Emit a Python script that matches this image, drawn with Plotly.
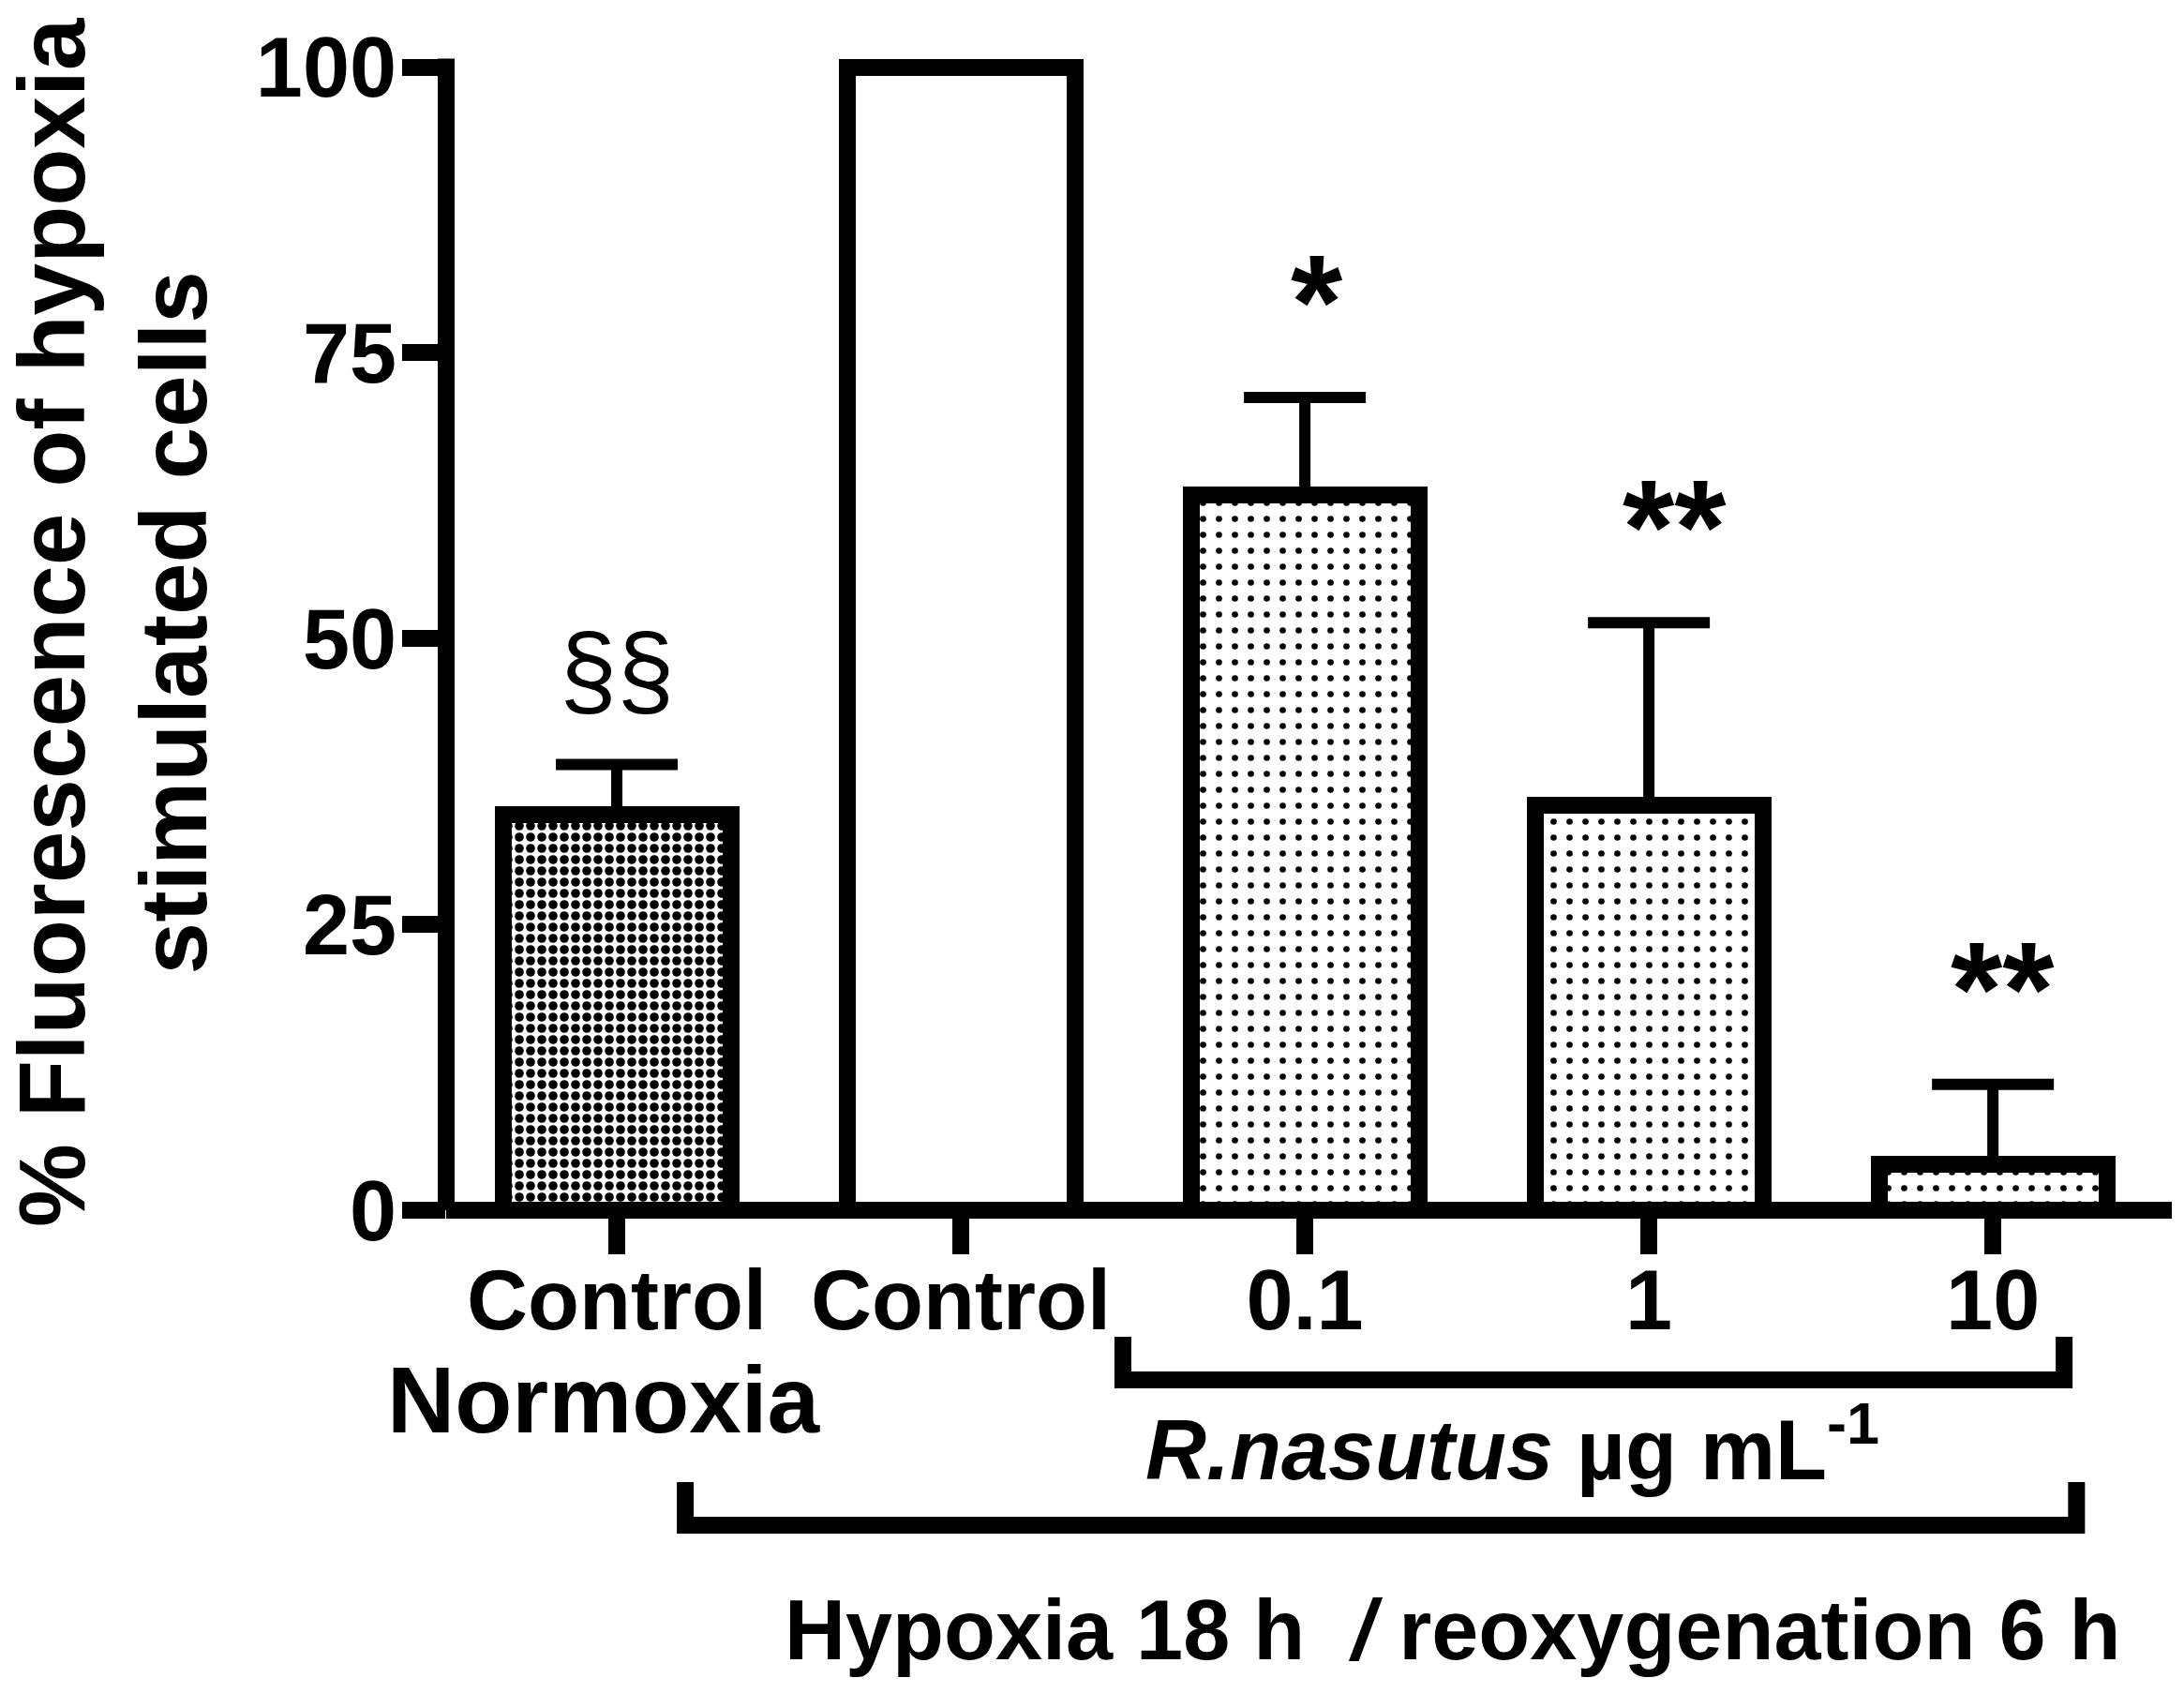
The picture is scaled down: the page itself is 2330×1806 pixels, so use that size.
import plotly.graph_objects as go

# values
groups = ["Control", "Control", "0.1", "1", "10"]
values = [34.6, 100, 62.6, 35.4, 4.0]
sem = [4.4, 0, 8.5, 16.0, 7.0]
signif = ["§§", "", "*", "**", "**"]

x_pos = [0, 1, 2, 3, 4]
y_ticks = [0, 25, 50, 75, 100]

# styling
FONT = "Liberation Sans, Arial, Helvetica, sans-serif"
X_RANGE = [-0.496, 4.52]
Y_RANGE = [0, 103]
LW = 18

pat_shape = [".", "", ".", ".", "."]
pat_size = [12, 10, 17, 17, 17]
pat_solid = [0.5, 0.1, 0.12, 0.12, 0.12]
sig_dx = [0, 0, 0.035, 0.074, 0.027]
sig_size = [110, 110, 142, 142, 142]
sig_weight = ["normal", "normal", "bold", "bold", "bold"]
SIG_PAD = 8.4


def xp(v):
    # data x -> paper x
    return (v - X_RANGE[0]) / (X_RANGE[1] - X_RANGE[0])


fig = go.Figure()

fig.add_trace(go.Bar(
    x=x_pos, y=values, width=0.662,
    marker=dict(
        color="white",
        line=dict(color="black", width=LW),
        pattern=dict(shape=pat_shape, size=pat_size, solidity=pat_solid,
                     fgcolor="black", bgcolor="white", fillmode="replace"),
    ),
    error_y=dict(type="data", symmetric=False, array=sem,
                 arrayminus=[0] * len(sem), color="black",
                 thickness=12, width=65),
    showlegend=False, hoverinfo="skip",
))

# significance marks above the error bars
for i, s in enumerate(signif):
    if not s:
        continue
    fig.add_annotation(
        x=x_pos[i] + sig_dx[i], y=values[i] + sem[i] + SIG_PAD,
        xref="x", yref="y", text=s, showarrow=False,
        xanchor="center", yanchor="middle",
        font=dict(family=FONT, size=sig_size[i], color="black",
                  weight=sig_weight[i]),
    )

# axis lines drawn as shapes so the bars are not clipped at 100
fig.add_shape(type="line", xref="paper", yref="paper", x0=0, x1=1, y0=0, y1=0,
              line=dict(color="black", width=LW))
fig.add_shape(type="line", xref="paper", yref="paper", x0=0, x1=0, y0=0,
              y1=(y_ticks[-1] + 0.74) / Y_RANGE[1],
              line=dict(color="black", width=LW))

# group brackets under the axis
brackets = [(1.471, 4.207, -0.1441, -0.1075),
            (0.199, 4.243, -0.2675, -0.2309)]
for x0, x1, yb, yt in brackets:
    fig.add_shape(
        type="path", xref="paper", yref="paper",
        path=f"M{xp(x0)},{yt} L{xp(x0)},{yb} L{xp(x1)},{yb} L{xp(x1)},{yt}",
        line=dict(color="black", width=LW),
    )

bottom_text = [
    ("Normoxia", -0.038, -0.1608, 100),
    ("<i>R.nasutus</i> µg mL<sup>-1</sup>", 2.602, -0.1982, 90),
    ("Hypoxia 18 h  <i>/</i> reoxygenation 6 h", 2.43, -0.3567, 90),
]
for txt, x, y, sz in bottom_text:
    fig.add_annotation(
        x=x, y=y, xref="x", yref="paper", text=txt, showarrow=False,
        xanchor="center", yanchor="middle",
        font=dict(family=FONT, size=sz, color="black", weight="bold"),
    )

fig.add_annotation(
    x=-0.1934, y=0.5, xref="paper", yref="paper",
    text="% Fluorescence of hypoxia<br>stimulated cells",
    textangle=-90, showarrow=False, xanchor="center", yanchor="middle",
    font=dict(family=FONT, size=100, color="black", weight="bold"),
)

fig.update_xaxes(
    range=X_RANGE, tickvals=x_pos, ticktext=groups,
    showline=False, showgrid=False, zeroline=False,
    ticks="outside", ticklen=46, tickwidth=LW, tickcolor="black",
    ticklabelstandoff=-28,
    tickfont=dict(family=FONT, size=90, color="black", weight="bold"),
)
fig.update_yaxes(
    range=Y_RANGE, tickvals=y_ticks,
    showline=False, showgrid=False, zeroline=False,
    ticks="outside", ticklen=46, tickwidth=LW, tickcolor="black",
    ticklabelstandoff=-12,
    tickfont=dict(family=FONT, size=90, color="black", weight="bold"),
)

fig.update_layout(
    width=2330, height=1806,
    margin=dict(l=476, r=13, t=35, b=515),
    plot_bgcolor="white", paper_bgcolor="white",
    font=dict(family=FONT, color="black"),
    bargap=0,
)

fig.write_html("out.html", config={"displayModeBar": False},
               post_script="document.body.style.margin='0';")
